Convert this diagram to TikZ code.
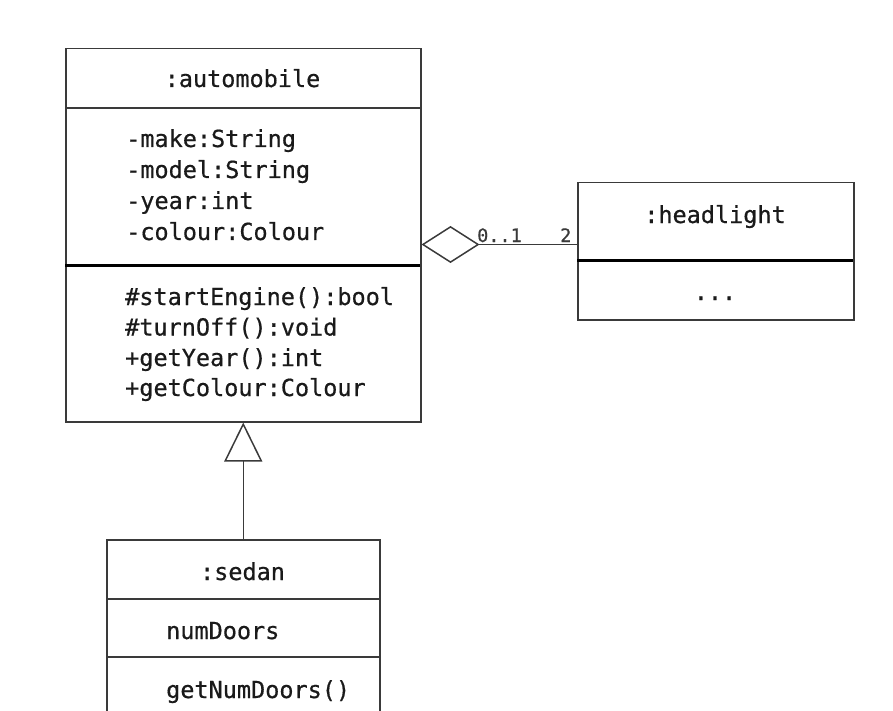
\documentclass[tikz,border=0pt]{standalone}
\usepackage{fontspec}
\setmonofont[FakeBold=0.6]{DejaVu Sans Mono}
\usetikzlibrary{arrows.meta,shapes.geometric}
\definecolor{boxgray}{HTML}{3A3A3A}
\definecolor{textcol}{HTML}{1A1A1A}
\begin{document}
\begin{tikzpicture}[x=1pt,y=-1pt,
  umlbox/.style={draw=boxgray,line width=1.5pt,rectangle,inner sep=0pt,anchor=north west},
  thindiv/.style={draw=boxgray,line width=1.5pt},
  thickdiv/.style={draw=black,line width=3pt},
  txt/.style={inner sep=0pt,anchor=base west,text=textcol,font=\ttfamily\fontsize{23.5}{28}\selectfont},
  ctxt/.style={txt,anchor=base},
  mult/.style={inner sep=0pt,anchor=base west,text=boxgray,font=\ttfamily\fontsize{18.5}{22}\selectfont},
  conn/.style={draw=boxgray,line width=1.5pt}
]
\useasboundingbox (0,0) rectangle (893,711);
\clip (0,0) rectangle (893,711);

% automobile
\node[umlbox,minimum width=355pt,minimum height=373pt] (auto) at (65,48) {};
\draw[thindiv] (65,108) -- (420,108);
\draw[thickdiv] (65,265) -- (420,265);
\node[ctxt] (autoname) at (242.5,87) {:automobile};
\node[txt] (a1) at (126,147) {-make:String};
\node[txt] (a2) at (126,178) {-model:String};
\node[txt] (a3) at (126,209) {-year:int};
\node[txt] (a4) at (126,240) {-colour:Colour};
\node[txt] (m1) at (125,305) {\#startEngine():bool};
\node[txt] (m2) at (125,335.5) {\#turnOff():void};
\node[txt] (m3) at (125,366) {+getYear():int};
\node[txt] (m4) at (125,396) {+getColour:Colour};

% headlight
\node[umlbox,minimum width=276pt,minimum height=137pt] (head) at (577,182) {};
\draw[thickdiv] (577,260) -- (853,260);
\node[ctxt] (headname) at (715,223) {:headlight};
\node[ctxt] (headdots) at (715,300) {...};

% sedan
\node[umlbox,minimum width=273pt,minimum height=200pt] (sedan) at (106,539) {};
\draw[thindiv] (106,599) -- (379,599);
\draw[thindiv] (106,657) -- (379,657);
\node[ctxt] (sedanname) at (242.5,580) {:sedan};
\node[txt] (s1) at (166,639) {numDoors};
\node[txt] (s2) at (166,698) {getNumDoors()};

% aggregation
\coordinate (aggpt) at (420,244.5);
\draw[conn,-{Diamond[open,length=58pt,width=37pt]}] (head.west |- aggpt) -- (auto.east |- aggpt);
\node[mult] (m01) at (477,242) {0..1};
\node[mult] (m2x) at (560,242) {2};

% generalization
\draw[conn,-{Triangle[open,length=39pt,width=38pt]}] (sedan.north) -- (auto.south);
\end{tikzpicture}
\end{document}
